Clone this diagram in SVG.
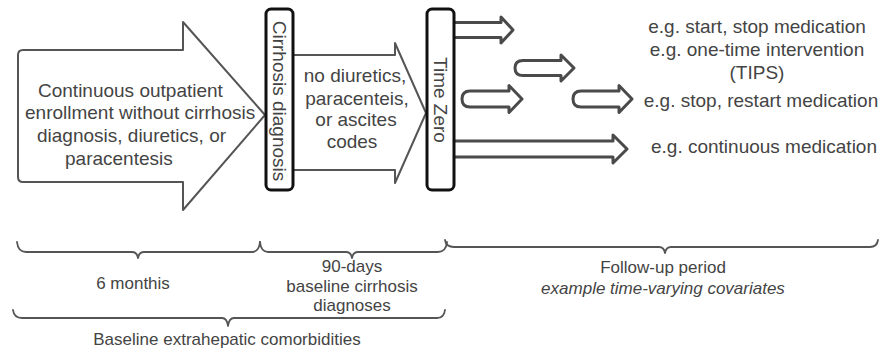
<svg xmlns="http://www.w3.org/2000/svg" width="880" height="354" viewBox="0 0 880 354">
<style>
text{font-family:"Liberation Sans",Arial,sans-serif;fill:#444;text-anchor:middle}
.t19{font-size:19px}
.t17{font-size:17px}
.it{font-style:italic}
.st{text-anchor:start}
.arrow{fill:#fff;stroke:#555;stroke-width:2;stroke-linejoin:round}
.small{fill:#fff;stroke:#4a4a4a;stroke-width:3;stroke-linejoin:round}
.box{fill:#fff;stroke:#111;stroke-width:3}
.brace{fill:none;stroke:#555;stroke-width:1.8;stroke-linejoin:round;stroke-linecap:round}
</style>
<g id="baseline-arrow">
<path class="arrow" d="M23,50 L183,50 L183,22 L265,115 L183,210 L183,182 L23,182 Q18,182 18,177 L18,55 Q18,50 23,50 Z"/>
<text class="t19 st" x="38" y="97">Continuous outpatient</text>
<text class="t19 st" x="25" y="119">enrollment without cirrhosis</text>
<text class="t19 st" x="37" y="142">diagnosis, diuretics, or</text>
<text class="t19 st" x="65" y="165">paracentesis</text>
</g>
<g id="window-arrow">
<path class="arrow" d="M293,55 L395,55 L395,43 L426,113 L395,183 L395,170 L293,170 Z"/>
<text class="t19" x="355" y="82">no diuretics,</text>
<text class="t19" x="357" y="105">paracenteis,</text>
<text class="t19" x="356" y="126">or ascites</text>
<text class="t19" x="352" y="148">codes</text>
</g>
<g id="cirrhosis-diagnosis">
<rect class="box" x="266" y="9" width="27" height="181" rx="5"/>
<text class="t19" transform="translate(279.5,101) rotate(90)" y="6.5">Cirrhosis diagnosis</text>
</g>
<g id="connectors">
<path class="small" d="M450,22.5 L501,22.5 L501,17 L513,30 L501,43 L501,37.5 L450,37.5 Z"/>
<path class="small" d="M523,60.5 L561,60.5 L561,55 L574,68 L561,81 L561,75.5 L523,75.5 Q515,75.5 515,68 Q515,60.5 523,60.5 Z"/>
<path class="small" d="M470,91 L509,91 L509,85.5 L522,99 L509,112.5 L509,107 L470,107 Q462,107 462,99 Q462,91 470,91 Z"/>
<path class="small" d="M581,91 L619,91 L619,85.5 L632,99 L619,112.5 L619,107 L581,107 Q573,107 573,99 Q573,91 581,91 Z"/>
<path class="small" d="M450,141 L613,141 L613,135 L627,149 L613,163 L613,157 L450,157 Z"/>
</g>
<g id="time-zero">
<rect class="box" x="427" y="9" width="27" height="181" rx="5"/>
<text class="t19" transform="translate(440.5,100) rotate(90)" y="6.5">Time Zero</text>
</g>
<g id="examples">
<text class="t19" x="757" y="33">e.g. start, stop medication</text>
<text class="t19" x="757" y="56">e.g. one-time intervention</text>
<text class="t19" x="757" y="79">(TIPS)</text>
<text class="t19" x="761" y="107">e.g. stop, restart medication</text>
<text class="t19" x="764" y="153">e.g. continuous medication</text>
</g>
<g id="brace-6months">
<path class="brace" d="M17,242 Q18,252 26,252 L132,252 Q137,252 138,258 Q139,252 144,252 L252,252 Q259,252 260,242"/>
<text class="t17" x="133" y="289">6 monthis</text>
</g>
<g id="brace-90days">
<path class="brace" d="M260,242 Q261,252 268,252 L346,252 Q351,252 352,258 Q353,252 358,252 L438,252 Q446,252 447,242"/>
<text class="t17" x="352" y="272">90-days</text>
<text class="t17" x="352" y="292">baseline cirrhosis</text>
<text class="t17" x="352" y="311">diagnoses</text>
</g>
<g id="brace-followup">
<path class="brace" d="M445,240 Q446,247 454,247 L659,247 Q664,247 665,253 Q666,247 671,247 L870,247 Q877,247 878,240"/>
<text class="t17" x="663" y="273">Follow-up period</text>
<text class="t17 it" x="663" y="294">example time-varying covariates</text>
</g>
<g id="brace-baseline">
<path class="brace" d="M13,310 Q14,318 22,318 L222,318 Q227,318 228,326 Q229,318 234,318 L437,318 Q444,318 445,310"/>
<text class="t17" x="227" y="345">Baseline extrahepatic comorbidities</text>
</g>
</svg>
